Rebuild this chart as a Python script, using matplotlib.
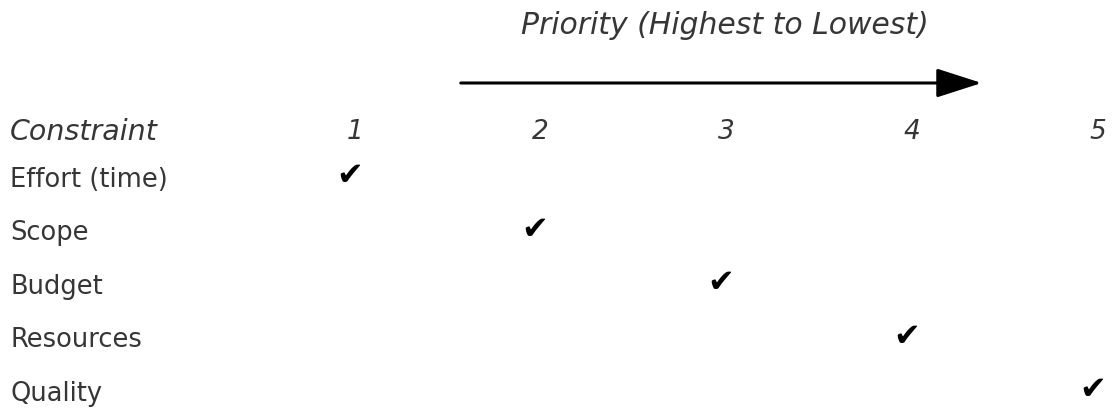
import matplotlib
matplotlib.use("Agg")
import matplotlib.pyplot as plt

# table content
constraints = ["Effort (time)", "Scope", "Budget", "Resources", "Quality"]
priorities = [1, 2, 3, 4, 5]
chosen = [1, 2, 3, 4, 5]          # priority ticked for each constraint
header = "Constraint"
title = "Priority (Highest to Lowest)"

plt.rcParams['font.family'] = ['DejaVu Sans']
text_col = '#363636'

fig = plt.figure(figsize=(11.13, 4.15), dpi=100)
ax = fig.add_axes([0, 0, 1, 1])
ax.set_xlim(-0.911, 5.081)
ax.set_ylim(5.393, -2.364)
ax.axis('off')

# title + arrow (axes fractions)
ax.text(0.651, 0.938, title, transform=ax.transAxes, ha='center', va='center',
        fontsize=21.5, style='italic', color=text_col)
ax.annotate('', xy=(0.882, 0.80), xytext=(0.414, 0.80),
            xycoords='axes fraction', textcoords='axes fraction',
            arrowprops=dict(arrowstyle='-|>,head_length=1.4,head_width=0.45',
                            mutation_scale=20, lw=2.2, color='black',
                            shrinkA=0, shrinkB=0))

# header row
header_y = 0.1
ax.text(-0.857, header_y, header, ha='left', va='center', fontsize=20.5,
        style='italic', color=text_col)
for p in priorities:
    ax.text(p, header_y, str(p), ha='center', va='center', fontsize=19,
            style='italic', color=text_col)

# constraint rows with check marks
for i, (name, p) in enumerate(zip(constraints, chosen), start=1):
    ax.text(-0.857, i, name, ha='left', va='center', fontsize=18.5, color=text_col)
    ax.text(p - 0.03, i - 0.06, '\u2714', ha='center', va='center',
            fontsize=23, color='black')

fig.savefig('out.png', dpi=100)
